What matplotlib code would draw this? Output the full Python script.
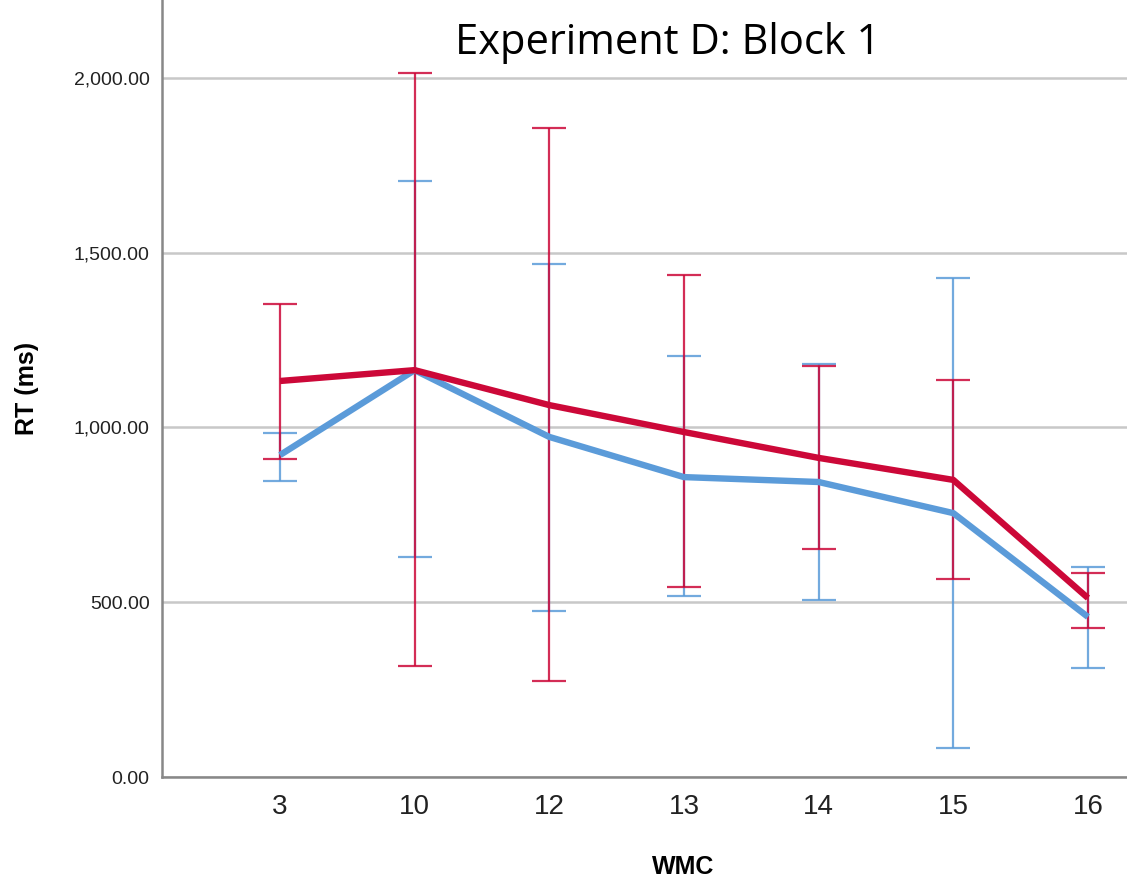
import matplotlib
matplotlib.use("Agg")
import matplotlib.pyplot as plt
import numpy as np

# Données
wmc = ["3", "10", "12", "13", "14", "15", "16"]

rt_blue = [921, 1164, 973, 858, 844, 755, 458]
blue_low = [847, 629, 475, 518, 506, 83, 312]
blue_high = [984, 1705, 1468, 1205, 1182, 1428, 601]

rt_red = [1133, 1164, 1064, 987, 913, 850, 512]
red_low = [910, 318, 275, 544, 652, 567, 426]
red_high = [1353, 2014, 1857, 1436, 1176, 1136, 584]

BLUE = "#5b9bd9"
RED = "#cc0838"

fig = plt.figure(figsize=(11.27, 8.86), dpi=100)
ax = fig.add_axes([162 / 1127, 1 - 777 / 886, 1 - 162 / 1127, 777 / 886])

x = np.arange(len(wmc))


def draw(vals, low, high, color, zl, zb):
    vals = np.array(vals)
    err = [vals - np.array(low), np.array(high) - vals]
    ax.errorbar(x, vals, yerr=err, fmt="none", ecolor=color, elinewidth=1.6,
                capsize=12, capthick=1.6, alpha=0.85, zorder=zb)
    ax.plot(x, vals, color=color, lw=4.6, solid_capstyle="butt", zorder=zl)


draw(rt_blue, blue_low, blue_high, BLUE, 4, 2)
draw(rt_red, red_low, red_high, RED, 5, 3)

ax.set_xlim(-0.876, 6.29)
ax.set_ylim(0, 2223)
ax.set_xticks(x)
ax.set_xticklabels(wmc, fontsize=20, family="Liberation Sans", color="#222222")
ax.set_yticks([0, 500, 1000, 1500, 2000])
ax.set_yticklabels([f"{v:,.2f}" for v in [0, 500, 1000, 1500, 2000]],
                   fontsize=14, family="Liberation Sans", color="#222222")
ax.tick_params(axis="both", length=0)
ax.tick_params(axis="x", pad=12)
ax.tick_params(axis="y", pad=9)

ax.grid(axis="y", color="#c8c8c8", lw=1.8)
ax.set_axisbelow(True)
for s in ["top", "right"]:
    ax.spines[s].set_visible(False)
for s in ["left", "bottom"]:
    ax.spines[s].set_color("#888888")
    ax.spines[s].set_linewidth(1.8)

ax.set_ylabel("RT (ms)", fontsize=18, fontweight="bold", family="Liberation Sans")
ax.yaxis.set_label_coords((27 - 162) / 965, 0.5)
ax.set_xlabel("WMC", fontsize=18, fontweight="bold", family="Liberation Sans")
ax.xaxis.set_label_coords((683 - 162) / 965, (777 - 867) / 777)
ax.xaxis.label.set_va("center")
ax.yaxis.label.set_va("center")

fig.text(668 / 1127, 1 - 43 / 886, "Experiment D: Block 1", fontsize=30,
         family="Open Sans", ha="center", va="center", color="black")

fig.savefig("out.png", dpi=100)
